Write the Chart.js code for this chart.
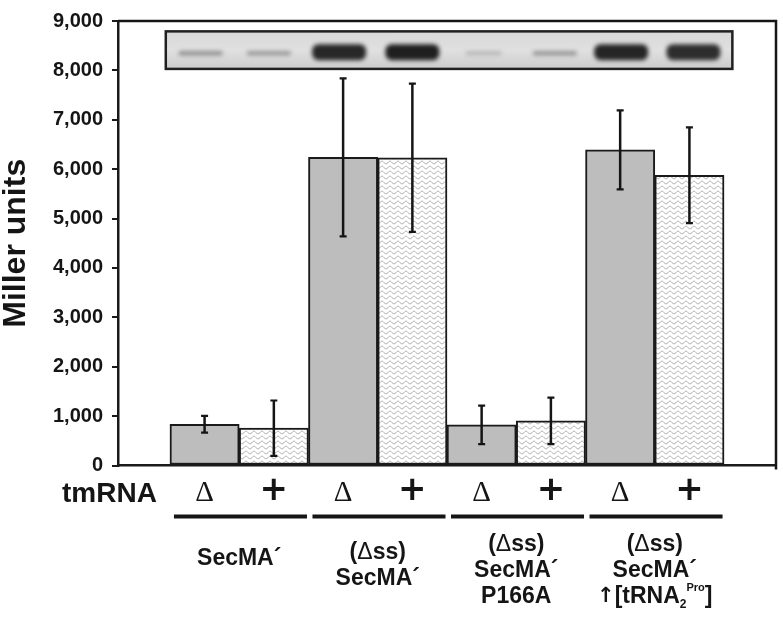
<!DOCTYPE html>
<html>
<head>
<meta charset="utf-8">
<script src="https://cdn.jsdelivr.net/npm/chart.js@4.4.0/dist/chart.umd.min.js"></script>
<style>
  html, body { margin: 0; padding: 0; background: #fff; }
</style>
</head>
<body>
<canvas id="chart" width="783" height="621"></canvas>
<script>
// tmRNA status under each bar, values in Miller units, +/- error
const tmrnaSymbols = ['Δ', '+', 'Δ', '+', 'Δ', '+', 'Δ', '+'];
const millerValues = [836, 756, 6240, 6230, 824, 904, 6390, 5876];
const millerErrors = [170, 560, 1600, 1500, 390, 470, 800, 970];
const yMax = 9000;
const yStep = 1000;
// western blot band darkness (0 = none, 1 = black), one per lane
const blotBands = [0.45, 0.4, 0.93, 0.97, 0.22, 0.42, 0.94, 0.9];
// construct names under each pair of bars
const groupLabels = [
    ['SecMA´'],
    ['(Δss)', 'SecMA´'],
    ['(Δss)', 'SecMA´', 'P166A'],
    ['(Δss)', 'SecMA´', '↑[tRNA_2^Pro]']
];

const INK = '#151515';
const SANS = '"Liberation Sans", Arial, sans-serif';

function wavePattern() {
    const p = document.createElement('canvas');
    p.width = 8; p.height = 5;
    const g = p.getContext('2d');
    g.fillStyle = '#fff';
    g.fillRect(0, 0, 8, 5);
    g.strokeStyle = '#a6a6a6';
    g.lineWidth = 1;
    g.beginPath();
    for (let x = 0; x <= 8; x += 0.5) {
        const y = 2.5 + 1.3 * Math.sin(x / 8 * 2 * Math.PI);
        if (x === 0) g.moveTo(x, y); else g.lineTo(x, y);
    }
    g.stroke();
    return g.createPattern(p, 'repeat');
}

// split a label into font runs: Δ thin, ↑ heavy, _x subscript, ^xxx superscript
function parseRich(text) {
    const runs = [];
    let i = 0;
    while (i < text.length) {
        const c = text[i];
        if (c === 'Δ') {
            runs.push({ t: c, font: '23px ' + SANS, dy: 0 });
            i++;
        } else if (c === '↑') {
            runs.push({ t: c, font: 'bold 21px "DejaVu Sans", sans-serif', dy: 0 });
            i++;
        } else if (c === '_') {
            runs.push({ t: text[i + 1], font: 'bold 12px ' + SANS, dy: 8 });
            i += 2;
        } else if (c === '^') {
            let j = i + 1;
            while (j < text.length && /[A-Za-z]/.test(text[j])) j++;
            runs.push({ t: text.slice(i + 1, j), font: 'bold 11px ' + SANS, dy: -9 });
            i = j;
        } else {
            let j = i;
            while (j < text.length && !'Δ↑_^'.includes(text[j])) j++;
            runs.push({ t: text.slice(i, j), font: 'bold 23px ' + SANS, dy: 0 });
            i = j;
        }
    }
    return runs;
}

function drawRich(ctx, text, cx, cy) {
    const runs = parseRich(text);
    let total = 0;
    runs.forEach(r => { ctx.font = r.font; r.w = ctx.measureText(r.t).width; total += r.w; });
    let x = cx - total / 2;
    ctx.textAlign = 'left';
    ctx.textBaseline = 'middle';
    runs.forEach(r => {
        ctx.font = r.font;
        ctx.fillText(r.t, x, cy + r.dy);
        x += r.w;
    });
}

const overlay = {
    id: 'overlay',
    beforeDatasetsDraw(chart) {
        const { ctx } = chart;
        const xs = chart.scales.x, ys = chart.scales.y;
        const l = xs.getPixelForValue(-0.56), r = xs.getPixelForValue(7.62);
        const t = ys.getPixelForValue(8790), b = ys.getPixelForValue(8030);
        ctx.save();
        const bg = ctx.createLinearGradient(0, t, 0, b);
        bg.addColorStop(0, '#d8d8d8');
        bg.addColorStop(0.5, '#e0e0e0');
        bg.addColorStop(1, '#cccccc');
        ctx.fillStyle = bg;
        ctx.fillRect(l, t, r - l, b - t);
        ctx.save();
        ctx.beginPath();
        ctx.rect(l, t, r - l, b - t);
        ctx.clip();
        ctx.filter = 'blur(2px)';
        const shifts = [-4, -5, -4, 0, 2, 4, 1, 4];
        blotBands.forEach((d, i) => {
            const cx = xs.getPixelForValue(i) + shifts[i];
            const thick = d > 0.7;
            const w = thick ? 54 : (d < 0.3 ? 36 : 44);
            const h = thick ? 16 : 4;
            const cy = (t + b) / 2 + (thick ? 2 : 3);
            const s = Math.round(225 - d * 200);
            ctx.fillStyle = `rgb(${s},${s},${s})`;
            ctx.beginPath();
            ctx.roundRect(cx - w / 2, cy - h / 2, w, h, h / 2.5);
            ctx.fill();
        });
        ctx.restore();
        ctx.strokeStyle = '#202020';
        ctx.lineWidth = 2.5;
        ctx.strokeRect(l, t, r - l, b - t);
        ctx.restore();
    },
    afterDatasetsDraw(chart) {
        const { ctx, chartArea } = chart;
        const xs = chart.scales.x, ys = chart.scales.y;
        ctx.save();
        ctx.strokeStyle = INK;
        // error bars
        millerValues.forEach((v, i) => {
            const x = xs.getPixelForValue(i);
            const y1 = ys.getPixelForValue(v + millerErrors[i]);
            const y2 = ys.getPixelForValue(v - millerErrors[i]);
            ctx.lineWidth = 2.5;
            ctx.beginPath();
            ctx.moveTo(x, y1); ctx.lineTo(x, y2);
            ctx.stroke();
            ctx.lineWidth = 2.2;
            ctx.beginPath();
            ctx.moveTo(x - 3.5, y1); ctx.lineTo(x + 3.5, y1);
            ctx.moveTo(x - 3.5, y2); ctx.lineTo(x + 3.5, y2);
            ctx.stroke();
        });
        // top and right frame
        ctx.lineWidth = 2.5;
        ctx.beginPath();
        ctx.moveTo(chartArea.left, chartArea.top);
        ctx.lineTo(chartArea.right, chartArea.top);
        ctx.lineTo(chartArea.right, chartArea.bottom + 4);
        ctx.stroke();
        ctx.restore();
    },
    afterDraw(chart) {
        const { ctx } = chart;
        const xs = chart.scales.x;
        ctx.save();
        ctx.fillStyle = INK;
        ctx.font = 'bold 28px ' + SANS;
        ctx.textAlign = 'left';
        ctx.textBaseline = 'middle';
        ctx.fillText('tmRNA', 62, 494);
        const firstLineY = [559, 553, 545, 545];
        ctx.strokeStyle = INK;
        ctx.lineWidth = 4;
        groupLabels.forEach((lines, g) => {
            const x0 = xs.getPixelForValue(2 * g - 0.5) + 4;
            const x1 = xs.getPixelForValue(2 * g + 1.5) - 1.5;
            ctx.beginPath();
            ctx.moveTo(x0, 516.5);
            ctx.lineTo(x1, 516.5);
            ctx.stroke();
            const cx = xs.getPixelForValue(2 * g + 0.5);
            lines.forEach((line, k) => drawRich(ctx, line, cx, firstLineY[g] + k * 26));
        });
        ctx.restore();
    }
};

const wave = wavePattern();

const chart = new Chart(document.getElementById('chart'), {
    type: 'bar',
    data: {
        datasets: [{
            data: millerValues.map((v, i) => ({ x: i, y: v })),
            backgroundColor: millerValues.map((v, i) => i % 2 === 0 ? '#bdbdbd' : wave),
            borderColor: '#1a1a1a',
            borderWidth: 2,
            borderSkipped: false,
            categoryPercentage: 1,
            barPercentage: 1
        }]
    },
    options: {
        responsive: false,
        animation: false,
        layout: { padding: { top: 15, right: 7, left: 0, bottom: 0 } },
        plugins: { legend: { display: false }, tooltip: { enabled: false } },
        scales: {
            x: {
                type: 'linear',
                min: -1.25,
                max: 8.25,
                offset: false,
                afterBuildTicks: s => { s.ticks = tmrnaSymbols.map((_, i) => ({ value: i })); },
                afterFit: s => { s.height = 155.5; },
                grid: { display: false, drawTicks: false, offset: false },
                border: { color: '#1a1a1a', width: 2.5 },
                ticks: {
                    autoSkip: false,
                    maxRotation: 0,
                    padding: 4,
                    color: INK,
                    callback: (v, i) => tmrnaSymbols[i],
                    font: ctx => tmrnaSymbols[ctx.index] === 'Δ'
                        ? { family: '"Liberation Serif", serif', size: 29, lineHeight: '48px' }
                        : { family: '"DejaVu Sans", sans-serif', size: 34, weight: 'bold', lineHeight: '43px' }
                }
            },
            y: {
                min: 0,
                max: yMax,
                afterFit: s => { s.width = 118; },
                grid: { drawOnChartArea: false, drawTicks: true, tickLength: 6, color: '#1a1a1a', lineWidth: 2 },
                border: { color: '#1a1a1a', width: 2.5 },
                ticks: {
                    stepSize: yStep,
                    padding: 9,
                    color: INK,
                    font: { family: SANS, size: 20, weight: 'bold' },
                    callback: v => v.toLocaleString('en-US')
                },
                title: {
                    display: true,
                    text: 'Miller units',
                    color: INK,
                    font: { family: SANS, size: 32, weight: 'bold', lineHeight: 1 },
                    padding: { top: 0, bottom: 0 }
                }
            }
        }
    },
    plugins: [overlay]
});
</script>
</body>
</html>
